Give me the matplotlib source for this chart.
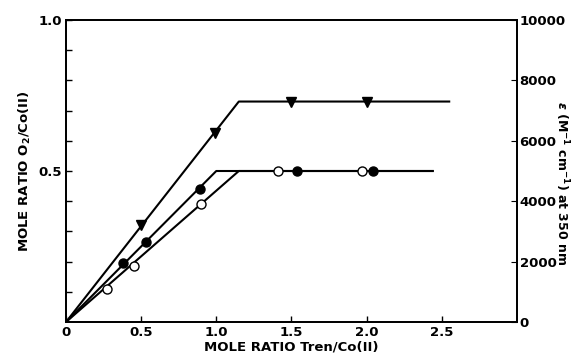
import matplotlib
matplotlib.use("Agg")
import matplotlib.pyplot as plt
from matplotlib.ticker import FixedLocator

plt.rcParams['font.family'] = ['DejaVu Sans']
plt.rcParams['font.weight'] = 'bold'

# Data (mole ratio Tren/Co(II) vs mole ratio O2/Co(II))
tri_x = [0.50, 0.99, 1.50, 2.00]
tri_y = [0.32, 0.625, 0.73, 0.73]
fill_x = [0.38, 0.53, 0.89, 1.54, 2.04]
fill_y = [0.195, 0.265, 0.44, 0.50, 0.50]
open_x = [0.27, 0.45, 0.90, 1.41, 1.97]
open_y = [0.11, 0.185, 0.39, 0.50, 0.50]

# Fitted lines (vertices)
tri_line_x = [0.0, 1.15, 2.55]
tri_line_y = [0.0, 0.73, 0.73]
fill_line_x = [0.0, 1.0, 2.44]
fill_line_y = [0.0, 0.50, 0.50]
open_line_x = [0.0, 1.15, 2.44]
open_line_y = [0.0, 0.50, 0.50]

x_ticks = [0, 0.5, 1.0, 1.5, 2.0, 2.5]
x_ticklabels = ['0', '0.5', '1.0', '1.5', '2.0', '2.5']
y_ticks = [0.5, 1.0]
y_ticklabels = ['0.5', '1.0']
r_ticks = [0, 2000, 4000, 6000, 8000, 10000]

fig = plt.figure(figsize=(5.84, 3.57), dpi=100)
ax = fig.add_axes([0.113, 0.098, 0.772, 0.846])

ax.plot(tri_line_x, tri_line_y, color='black', lw=1.5)
ax.plot(fill_line_x, fill_line_y, color='black', lw=1.5)
ax.plot(open_line_x, open_line_y, color='black', lw=1.5)
ax.plot(tri_x, tri_y, 'v', color='black', ms=7, zorder=3)
ax.plot(fill_x, fill_y, 'o', color='black', ms=6.5, zorder=3)
ax.plot(open_x, open_y, 'o', mfc='white', mec='black', mew=1.0, ms=6.5, zorder=3)

ax.set_xlim(0, 3.0)
ax.set_ylim(0, 1.0)
ax.set_xticks(x_ticks)
ax.set_xticklabels(x_ticklabels, fontsize=9.5, fontweight='bold')
ax.set_yticks(y_ticks)
ax.set_yticklabels(y_ticklabels, fontsize=9.5, fontweight='bold')
ax.yaxis.set_minor_locator(FixedLocator([0.1, 0.2, 0.3, 0.4, 0.6, 0.7, 0.8, 0.9]))
ax.tick_params(axis='both', which='both', direction='in', top=False, right=False, width=1)
ax.tick_params(axis='both', which='major', length=4, pad=3)
ax.tick_params(axis='y', which='minor', length=4)
for s in ax.spines.values():
    s.set_linewidth(1.3)

ax.set_xlabel('MOLE RATIO Tren/Co(II)', fontsize=9.5, fontweight='bold', labelpad=1)
ax.set_ylabel('MOLE RATIO O$_\\mathbf{2}$/Co(II)', fontsize=9.5, fontweight='bold', labelpad=4)

ax2 = ax.twinx()
ax2.set_ylim(0, 10000)
ax2.set_yticks(r_ticks)
ax2.set_yticklabels([str(t) for t in r_ticks], fontsize=9.5, fontweight='bold')
ax2.tick_params(axis='y', direction='in', length=4, pad=2)
for s in ax2.spines.values():
    s.set_linewidth(1.3)
ax2.set_ylabel('$\\epsilon$ (M$^{\\mathbf{-1}}$ cm$^{\\mathbf{-1}}$) at 350 nm', fontsize=9,
               fontweight='bold', rotation=270, labelpad=11)
ax2.yaxis.set_label_coords(1.12, 0.46)

fig.savefig('out.png', dpi=100)
